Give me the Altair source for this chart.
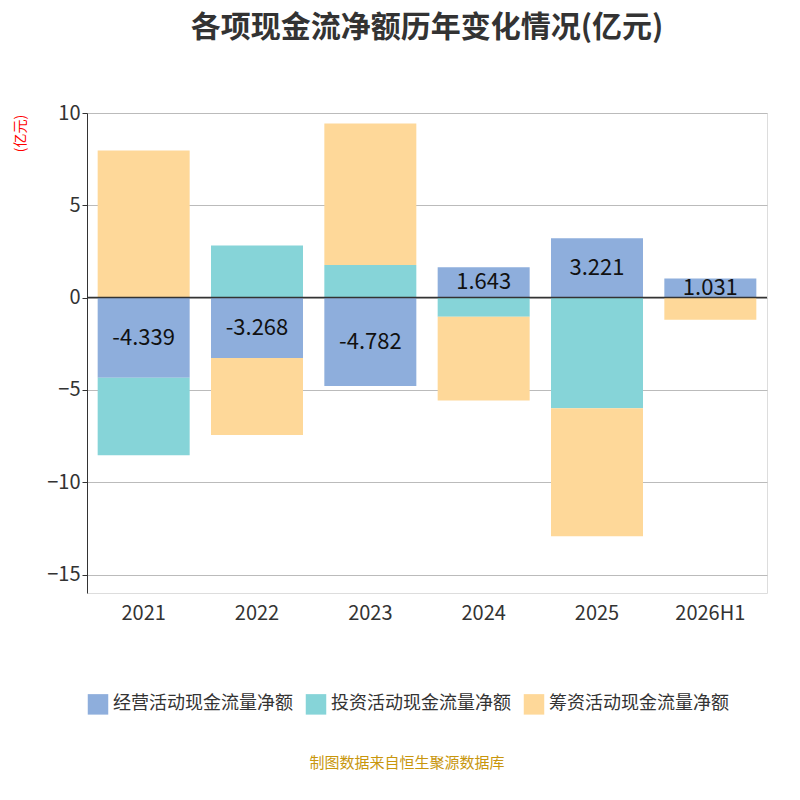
import altair as alt
import pandas as pd

years = ["2021", "2022", "2023", "2024", "2025", "2026H1"]
series = ["经营活动现金流量净额", "投资活动现金流量净额", "筹资活动现金流量净额"]
operating = [-4.339, -3.268, -4.782, 1.643, 3.221, 1.031]
investing = [-4.20, 2.82, 1.77, -1.04, -5.99, -0.02]
financing = [7.97, -4.18, 7.66, -4.53, -6.93, -1.18]
colors = ["#8eaedc", "#86d4d8", "#fed899"]

rows = []
for i, y in enumerate(years):
    for k, (name, vals) in enumerate(zip(series, [operating, investing, financing])):
        rows.append({"年份": y, "类别": name, "值": vals[i], "序": k})
df = pd.DataFrame(rows)
lab = pd.DataFrame({"年份": years, "值": operating,
                    "中": [v / 2 for v in operating],
                    "文": [f"{v:.3f}" for v in operating]})

x = alt.X("年份:N", sort=years, title=None,
          axis=alt.Axis(labelAngle=0, labelFontSize=20, labelColor="#333", labelPadding=10,
                        domain=False, ticks=False))

bars = alt.Chart(df).mark_bar(size=92).encode(
    x=x,
    y=alt.Y("值:Q", stack="zero", scale=alt.Scale(domain=[-15, 10]), title="(亿元)",
            axis=alt.Axis(values=[-15, -10, -5, 0, 5, 10], labelFontSize=20, labelColor="#333",
                          titleColor="red", titleFontSize=14, titleFontWeight="normal",
                          titleAngle=-90, titleY=20, titleX=-60, titleAlign="center",
                          domainColor="#333", tickColor="#333", gridColor="#bbb")),
    color=alt.Color("类别:N", sort=series, scale=alt.Scale(domain=series, range=colors),
                    legend=alt.Legend(orient="bottom", title=None, columns=3, symbolType="square",
                                      symbolSize=420, labelFontSize=18, labelColor="#333",
                                      columnPadding=12, offset=70, labelLimit=300)),
    order=alt.Order("序:Q"),
)

zero = alt.Chart(pd.DataFrame({"z": [0]})).mark_rule(color="#333", strokeWidth=1.5).encode(y="z:Q")

text = alt.Chart(lab).mark_text(fontSize=22, color="#111").encode(
    x=x, y=alt.Y("中:Q"), text="文:N")

footer = alt.Chart(pd.DataFrame({"t": ["制图数据来自恒生聚源数据库"]})).mark_text(
    fontSize=15, color="#c8960c").encode(x=alt.value(320), y=alt.value(650), text="t:N")

chart = alt.layer(bars, zero, text, footer).properties(
    width=680, height=480,
    title=alt.TitleParams("各项现金流净额历年变化情况(亿元)", fontSize=30, fontWeight="bold",
                          color="#333", offset=60),
).configure_view(strokeWidth=0).configure(font="Noto Sans CJK SC")

chart.save("out.html", embed_options={"renderer": "svg", "actions": False})
